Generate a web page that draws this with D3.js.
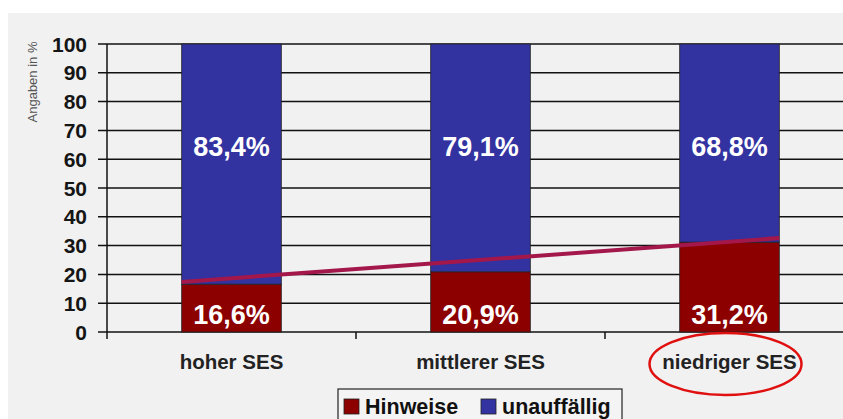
<!DOCTYPE html>
<html>
<head>
  <meta charset="utf-8">
  <title>SES</title>
  <script src="https://d3js.org/d3.v7.min.js"></script>
  <style>
    body { margin: 0; background: #fff; }
    text { font-family: "Liberation Sans", Arial, sans-serif; }
  </style>
</head>
<body>
<script>
  var kategorien = ["hoher SES", "mittlerer SES", "niedriger SES"];
  var hinweise = [16.6, 20.9, 31.2];
  var unauffaellig = [83.4, 79.1, 68.8];
  var yTicks = [0, 10, 20, 30, 40, 50, 60, 70, 80, 90, 100];
  var trend = [17.4, 32.6];   // Trendlinie, Anfang/Ende

  var w = 843, h = 419;
  var rot = "#8c0000", blau = "#3232a0";

  var svg = d3.select("body").append("svg").attr("width", w).attr("height", h);

  // grauer Hintergrund
  svg.append("rect").attr("x", 8).attr("y", 13).attr("width", w - 8).attr("height", h - 13)
    .attr("fill", "#f1f1f1");

  var x = d3.scaleBand().domain(kategorien).range([107, 854])
    .paddingInner(0.6).paddingOuter(0.3);
  var y = d3.scaleLinear().domain([0, 100]).range([332, 44]);

  // Gitterlinien
  svg.selectAll(".grid").data(yTicks).enter().append("line")
    .attr("x1", 98).attr("x2", w)
    .attr("y1", function(d) { return y(d); })
    .attr("y2", function(d) { return y(d); })
    .attr("stroke", "#111").attr("stroke-width", 1.5);

  // y-Achse
  svg.append("line").attr("x1", 107).attr("x2", 107).attr("y1", y(100)).attr("y2", y(0) + 7)
    .attr("stroke", "#111").attr("stroke-width", 1.5);

  svg.selectAll(".ylab").data(yTicks).enter().append("text")
    .attr("x", 87).attr("y", function(d) { return y(d); })
    .attr("dy", "0.36em")
    .attr("text-anchor", "end")
    .attr("font-size", "21px").attr("font-weight", "bold").attr("fill", "#151515")
    .text(function(d) { return d; });

  svg.append("text")
    .attr("transform", "translate(37,82) rotate(-90)")
    .attr("text-anchor", "middle")
    .attr("font-size", "13px").attr("fill", "#555")
    .text("Angaben in %");

  // Kategorie-Trennstriche
  var grenzen = kategorien.slice(1).map(function(k) { return x(k) + x.bandwidth() / 2 - x.step() / 2; });
  svg.selectAll(".xtick").data(grenzen).enter().append("line")
    .attr("x1", function(d) { return d; }).attr("x2", function(d) { return d; })
    .attr("y1", y(0)).attr("y2", y(0) + 7)
    .attr("stroke", "#111").attr("stroke-width", 1.5);

  // Balken
  var g = svg.selectAll(".bar").data(kategorien).enter().append("g");
  g.append("rect")
    .attr("x", function(d) { return x(d); })
    .attr("width", x.bandwidth())
    .attr("y", function(d, i) { return y(hinweise[i]); })
    .attr("height", function(d, i) { return y(0) - y(hinweise[i]); })
    .attr("fill", rot).attr("stroke", "#222").attr("stroke-width", 0.8);
  g.append("rect")
    .attr("x", function(d) { return x(d); })
    .attr("width", x.bandwidth())
    .attr("y", function(d, i) { return y(hinweise[i] + unauffaellig[i]); })
    .attr("height", function(d, i) { return y(hinweise[i]) - y(hinweise[i] + unauffaellig[i]); })
    .attr("fill", blau).attr("stroke", "#222").attr("stroke-width", 0.8);

  // Trendlinie
  var ersteK = kategorien[0], letzteK = kategorien[kategorien.length - 1];
  svg.append("line")
    .attr("x1", x(ersteK)).attr("y1", y(trend[0]))
    .attr("x2", x(letzteK) + x.bandwidth()).attr("y2", y(trend[1]))
    .attr("stroke", "#a3174a").attr("stroke-width", 4);

  // Werte
  function fmt(v) { return v.toFixed(1).replace(".", ",") + "%"; }
  g.append("text")
    .attr("x", function(d) { return x(d) + x.bandwidth() / 2; })
    .attr("y", y(61))
    .attr("text-anchor", "middle")
    .attr("font-size", "27px").attr("font-weight", "bold").attr("fill", "#fff")
    .text(function(d, i) { return fmt(unauffaellig[i]); });
  g.append("text")
    .attr("x", function(d) { return x(d) + x.bandwidth() / 2; })
    .attr("y", y(2.8))
    .attr("text-anchor", "middle")
    .attr("font-size", "27px").attr("font-weight", "bold").attr("fill", "#fff")
    .text(function(d, i) { return fmt(hinweise[i]); });

  // Kategorien
  svg.selectAll(".xlab").data(kategorien).enter().append("text")
    .attr("x", function(d) { return x(d) + x.bandwidth() / 2; })
    .attr("y", 369)
    .attr("text-anchor", "middle")
    .attr("font-size", "20.5px").attr("font-weight", "bold").attr("fill", "#222")
    .text(function(d) { return d; });

  // rote Ellipse
  svg.append("ellipse")
    .attr("cx", x(letzteK) + x.bandwidth() / 2 - 4).attr("cy", 364)
    .attr("rx", 76).attr("ry", 31)
    .attr("fill", "none").attr("stroke", "#e01010").attr("stroke-width", 2.5);

  // Legende
  var leg = svg.append("g");
  leg.append("rect").attr("x", 338).attr("y", 389).attr("width", 284).attr("height", 40)
    .attr("fill", "#f4f4f4").attr("stroke", "#222").attr("stroke-width", 1.2);
  var eintraege = [{t: "Hinweise", c: rot, x: 344}, {t: "unauffällig", c: blau, x: 481}];
  eintraege.forEach(function(e) {
    leg.append("rect").attr("x", e.x).attr("y", 399).attr("width", 15).attr("height", 15)
      .attr("fill", e.c).attr("stroke", "#222").attr("stroke-width", 0.8);
    leg.append("text").attr("x", e.x + 21).attr("y", 414)
      .attr("font-size", "21.5px").attr("font-weight", "bold").attr("fill", "#111")
      .text(e.t);
  });
</script>
</body>
</html>
